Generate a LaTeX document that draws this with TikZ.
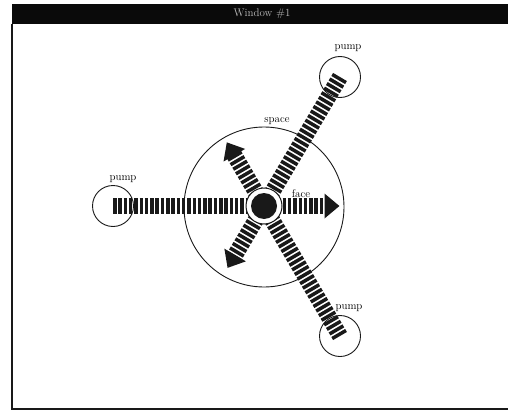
\documentclass[tikz,border=0pt]{standalone}
\usepackage{tikz}
\usetikzlibrary{arrows.meta,calc}
\definecolor{TitleBg} {RGB}{10,10,10}
\definecolor{TitleTxt}{RGB}{190,190,190}
\definecolor{InkLine} {RGB}{25,25,25}
\tikzset{
  nd_pump/.style={
    circle, draw=InkLine, line width=0.9pt,
    minimum size=41pt, inner sep=0pt},
  nd_space/.style={
    circle, draw=InkLine, line width=0.9pt,
    minimum size=160pt, inner sep=0pt},
  nd_face/.style={
    circle, draw=InkLine, fill=white, line width=1pt,
    minimum size=36pt, inner sep=0pt},
  nd_core/.style={
    circle, fill=InkLine, minimum size=26pt, inner sep=0pt},
  band/.style={
    draw=InkLine, line width=16pt,
    dash pattern=on 3.5pt off 1.8pt,
    -{Triangle[length=15pt,width=24pt]}},
  lbl/.style={font=\fontsize{11}{13}\selectfont, inner sep=1pt},
}

\begin{document}
\begin{tikzpicture}[x=1pt,y=-1pt]
\useasboundingbox (0,0) rectangle (508,412);

%% window frame
\fill[TitleBg] (12,4) rectangle (508,24);
\node[font=\fontsize{11}{12}\selectfont\color{TitleTxt}] (title) at (262,14) {Window \#1};
\draw[InkLine,line width=1.2pt] (12,24) -- (12,409) -- (508,409);

%% space and pumps
\node[nd_space] (space) at (264,207) {};
\node[nd_pump]  (P1) at (113,206) {};
\node[nd_pump]  (P2) at (340,77)  {};
\node[nd_pump]  (P3) at (340,336) {};

\coordinate (C) at (264,206);
\coordinate (T1) at ($(C)!-0.50!(P1)$);
\coordinate (T2) at ($(C)!-0.48!(P2)$);
\coordinate (T3) at ($(C)!-0.49!(P3)$);

\foreach \p/\t in {P1/T1,P2/T2,P3/T3}
  {\draw[band] (\p.center)--(\t);}

\node[nd_face] (face) at (C) {};
\node[nd_core] (core) at (C) {};

%% labels
\node[lbl] (Lsp) at (277,121) {space};
\node[lbl] (Lfc) at (301,194) {face};
\node[lbl] (L1)  at (123,179) {pump};
\node[lbl] (L2)  at (348,48)  {pump};
\node[lbl] (L3)  at (349,308) {pump};

\end{tikzpicture}
\end{document}
